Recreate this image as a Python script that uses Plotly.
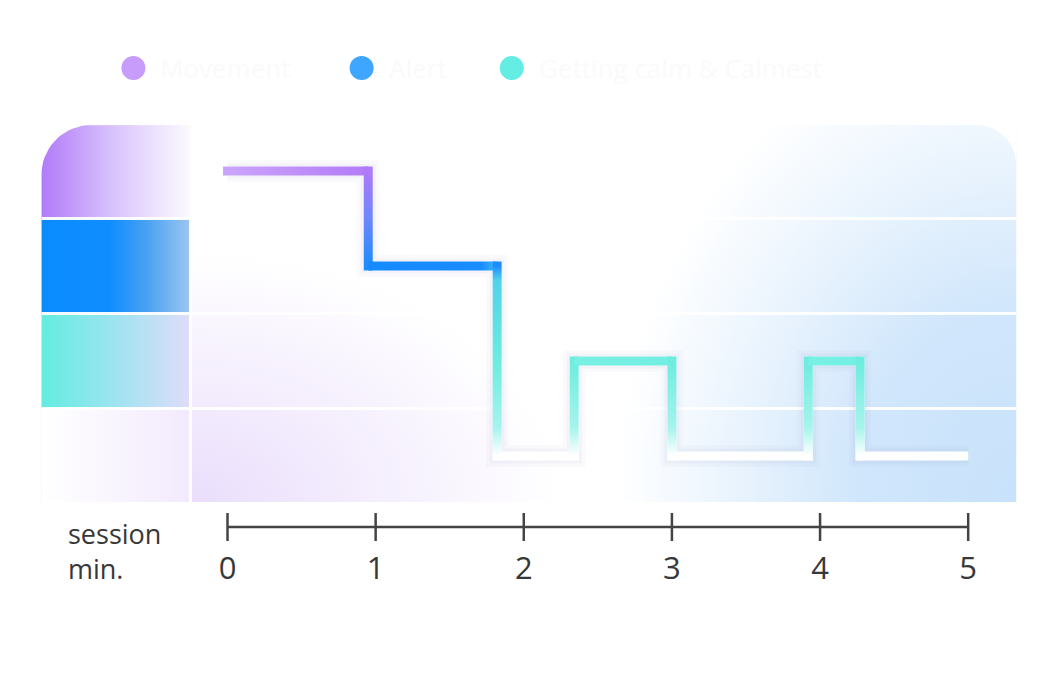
import numpy as np
import plotly.graph_objects as go

# session timeline: minute at which each state starts, and the state level (4 = top band)
TIMES = [0, 0.95, 1.82, 2.34, 3.0, 3.92, 4.27, 5.0]
LEVELS = [4, 3, 1, 2, 1, 2, 1, 1]

STATE_NAMES = ["Movement", "Alert", "Getting calm & Calmest"]
STATE_DOTS = ["#c79cfb", "#3ea6ff", "#63ede3"]

TICKS = [0, 1, 2, 3, 4, 5]
TICK_TEXT = ["0", "1", "2", "3", "4", "5"]
AXIS_TITLE = "session<br>min."

BAND_EDGES = [1.5, 2.5, 3.5]

W, H = 1054, 675
X_RANGE = [-1.257, 5.324]
Y_RANGE = [0.516, 4.484]
COL_EDGE = -0.25
PX_X = (1015 - 41) / (X_RANGE[1] - X_RANGE[0])
PX_Y = (502 - 125) / (Y_RANGE[1] - Y_RANGE[0])
FONT = "Open Sans"
INK = "#383838"

# page offset seen when the html is photographed
SX, OX, OY = 0.982, 16.7, 8


def px_x(p):
    return (p - OX) / SX / W


def px_y(p):
    return 1 - (p - OY) / H


# colour of the line depending on the level it is at
LINE_STOPS = [(1.0, "#ffffff"), (1.3, "#a6f4ec"), (2.0, "#6decdf"),
              (2.85, "#4fd3ea"), (3.0, "#1e8cff"), (3.5, "#6f87fb"), (4.0, "#b07af8")]
FLAT_SCALES = {
    4: [[0, "#caa3fb"], [1, "#b17af8"]],
    3: [[0, "#168aff"], [0.82, "#1a8cff"], [1, "#4ad6e9"]],
    2: [[0, "#78f0e4"], [1, "#72eee2"]],
}


def blob(xs, ys, grad):
    return go.Scatter(x=xs, y=ys, fill="toself", mode="lines", line=dict(width=0),
                      fillgradient=grad, hoverinfo="skip", showlegend=False)


def box(x0, x1, y0, y1, r_tl=0, r_tr=0):
    xs, ys = [x0, x1], [y0, y0]
    a = np.linspace(0, np.pi / 2, 18)
    if r_tr:
        rx, ry = r_tr / PX_X, r_tr / PX_Y
        xs += list(x1 - rx + rx * np.cos(a))
        ys += list(y1 - ry + ry * np.sin(a))
    else:
        xs.append(x1); ys.append(y1)
    if r_tl:
        rx, ry = r_tl / PX_X, r_tl / PX_Y
        b = a + np.pi / 2
        xs += list(x0 + rx + rx * np.cos(b))
        ys += list(y1 - ry + ry * np.sin(b))
    else:
        xs.append(x0); ys.append(y1)
    xs.append(x0); ys.append(y0)
    return xs, ys


def glow(cx, cy, hx_px, hy_px, rgb, stops):
    hx, hy = hx_px / PX_X, hy_px / PX_Y
    xs = [cx - hx, cx + hx, cx + hx, cx - hx, cx - hx]
    ys = [cy - hy, cy - hy, cy + hy, cy + hy, cy - hy]
    scale = [[p, f"rgba({rgb},{a})"] for p, a in stops]
    return blob(xs, ys, dict(type="radial", colorscale=scale))


fig = go.Figure()

# soft background glows of the card
fig.add_trace(glow(X_RANGE[1], Y_RANGE[0], 400, 480, "200,226,251",
                   [(0, 1), (0.4, 0.85), (0.7, 0.4), (1, 0)]))
fig.add_trace(glow(COL_EDGE, Y_RANGE[0], 370, 250, "234,222,252",
                   [(0, 1), (0.5, 0.5), (1, 0)]))

# white mask for the rounded top-right card corner
r = 40
a = np.linspace(0, np.pi / 2, 18)
mx = list(X_RANGE[1] - r / PX_X + r / PX_X * np.cos(a)) + [X_RANGE[1], X_RANGE[1]]
my = list(Y_RANGE[1] - r / PX_Y + r / PX_Y * np.sin(a)) + [Y_RANGE[1], Y_RANGE[1] - r / PX_Y]
fig.add_trace(go.Scatter(x=mx, y=my, fill="toself", mode="lines", line=dict(width=0),
                         fillcolor="#ffffff", hoverinfo="skip", showlegend=False))

# left colour key bands
bands = [
    (Y_RANGE[0], 1.5, [[0, "#ffffff"], [1, "#f2eafd"]], 0),
    (1.5, 2.5, [[0, "#62ede0"], [0.5, "#a0e3f1"], [1, "#e2dcfa"]], 0),
    (2.5, 3.5, [[0, "#0a8cff"], [0.45, "#0f8dff"], [0.7, "#4aa2f2"], [1, "#a3c8f0"]], 0),
    (3.5, Y_RANGE[1], [[0, "#b27af9"], [0.45, "#d6c0fc"], [0.75, "#ede2fd"], [1, "#fdfbff"]], 50),
]
for lo, hi, scale, rad in bands:
    xs, ys = box(X_RANGE[0], COL_EDGE, lo, hi, r_tl=rad)
    fig.add_trace(blob(xs, ys, dict(type="horizontal", colorscale=scale,
                                    start=X_RANGE[0], stop=COL_EDGE)))

# white separators
for e in BAND_EDGES:
    fig.add_trace(go.Scatter(x=X_RANGE, y=[e, e], mode="lines", hoverinfo="skip",
                             line=dict(color="rgba(255,255,255,0.95)", width=3), showlegend=False))
fig.add_trace(go.Scatter(x=[COL_EDGE, COL_EDGE], y=[Y_RANGE[0], 3.5], mode="lines", hoverinfo="skip",
                         line=dict(color="rgba(255,255,255,0.95)", width=3), showlegend=False))

# state line: soft shadow, white base, then coloured pieces
for wdt, alpha in ((22, 0.04), (15, 0.06)):
    fig.add_trace(go.Scatter(x=TIMES, y=LEVELS, mode="lines", line_shape="hv", hoverinfo="skip",
                             line=dict(color=f"rgba(140,140,185,{alpha})", width=wdt), showlegend=False))
fig.add_trace(go.Scatter(x=TIMES, y=LEVELS, mode="lines", line_shape="hv", hoverinfo="skip",
                         line=dict(color="#ffffff", width=9), showlegend=False))

hw, hh = 4.5 / PX_X, 4.5 / PX_Y
for i in range(len(TIMES) - 1):
    t0, t1, lv, nxt = TIMES[i], TIMES[i + 1], LEVELS[i], LEVELS[i + 1]
    if lv in FLAT_SCALES:
        x0 = t0 - hw if i == 0 else t0
        fig.add_trace(blob([x0, t1, t1, x0, x0], [lv - hh, lv - hh, lv + hh, lv + hh, lv - hh],
                           dict(type="horizontal", colorscale=FLAT_SCALES[lv], start=t0, stop=t1)))
    if nxt != lv:
        lo, hi = min(lv, nxt), max(lv, nxt)
        scale = [[(s - lo) / (hi - lo), c] for s, c in LINE_STOPS if lo <= s <= hi]
        fig.add_trace(blob([t1 - hw, t1 + hw, t1 + hw, t1 - hw, t1 - hw],
                           [lo - hh, lo - hh, hi + hh, hi + hh, lo - hh],
                           dict(type="vertical", colorscale=scale, start=lo, stop=hi)))

# time axis
fig.add_trace(go.Scatter(x=TICKS, y=[0] * len(TICKS), xaxis="x2", yaxis="y2",
                         mode="lines+markers", cliponaxis=False, hoverinfo="skip",
                         line=dict(color="#444444", width=2.5),
                         marker=dict(symbol="line-ns", size=20, line=dict(color="#444444", width=2.5)),
                         showlegend=False))

# legend dots + labels
LEGEND_X = [133, 361, 511]
shapes, annos = [], []
for px, name, col in zip(LEGEND_X, STATE_NAMES, STATE_DOTS):
    shapes.append(dict(type="circle", xref="paper", yref="paper",
                       xsizemode="pixel", ysizemode="pixel",
                       xanchor=px_x(px), yanchor=px_y(68), x0=-12, x1=12, y0=-12, y1=12,
                       fillcolor=col, line=dict(width=0)))
    annos.append(dict(text=name, xref="paper", yref="paper", x=px_x(px + 25), y=px_y(68),
                      xanchor="left", yanchor="middle", showarrow=False,
                      font=dict(family=FONT, size=26, color="#fafafa")))

annos.append(dict(text=AXIS_TITLE, xref="paper", yref="paper", x=px_x(66), y=px_y(551),
                  xanchor="left", yanchor="middle", align="left", showarrow=False,
                  font=dict(family=FONT, size=27, color=INK)))

fig.update_layout(
    width=W, height=H,
    margin=dict(l=0, r=0, t=0, b=0),
    paper_bgcolor="#ffffff", plot_bgcolor="#ffffff",
    showlegend=False,
    xaxis=dict(domain=[px_x(41), px_x(1015)], range=X_RANGE, visible=False, fixedrange=True),
    yaxis=dict(domain=[px_y(502), px_y(125)], range=Y_RANGE, visible=False, fixedrange=True),
    xaxis2=dict(domain=[px_x(227), px_x(967)], range=[0, 5], anchor="y2",
                tickvals=TICKS, ticktext=TICK_TEXT, ticks="", showgrid=False,
                zeroline=False, showline=False, ticklabelstandoff=0,
                tickfont=dict(family=FONT, size=31, color=INK), fixedrange=True),
    yaxis2=dict(domain=[px_y(547), px_y(507)], range=[-1, 1], visible=False, fixedrange=True),
    shapes=shapes,
    annotations=annos,
)

fig.write_html("out.html")
